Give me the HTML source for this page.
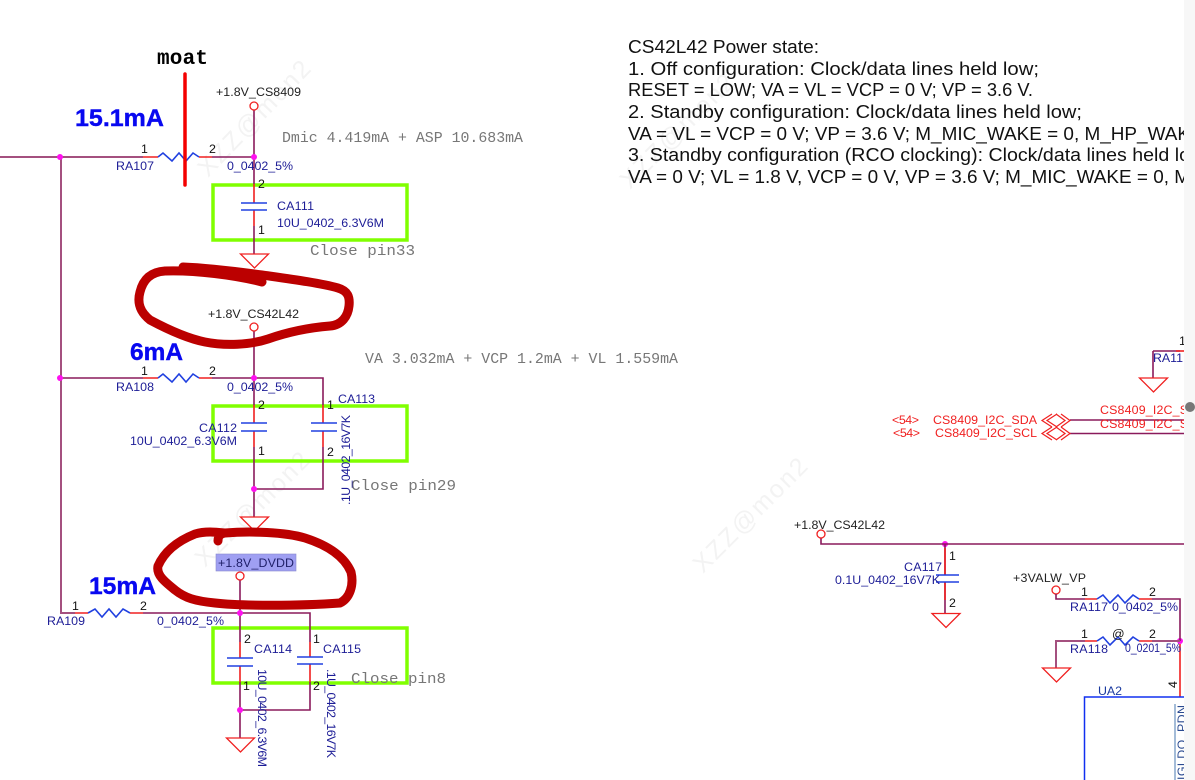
<!DOCTYPE html>
<html><head><meta charset="utf-8">
<style>
html,body{margin:0;padding:0;background:#fff;width:1195px;height:780px;overflow:hidden}
svg{display:block}
text{font-family:"Liberation Sans",sans-serif}
.w{stroke:#8a1a5c;stroke-width:1.6;fill:none}
.l{stroke:#a4507f;stroke-width:2;fill:none}
.r{stroke:#f02020;stroke-width:1.6;fill:none}
.b{stroke:#2040e0;stroke-width:1.6;fill:none}
.t{stroke:#f02020;stroke-width:1.3;fill:#fff}
.c{stroke:#f02020;stroke-width:1.3;fill:#fff}
.n{fill:#ff10f0}
.g{stroke:#80ff00;stroke-width:3.5;fill:none}
.k{font-size:12.4px;fill:#111}
.u{font-size:12.4px;fill:#1c1c96}
.v{font-size:12.4px;fill:#222}
.m{font-size:14.5px;fill:#777;font-family:"Liberation Mono",monospace}
.h{font-size:24.5px;font-weight:bold;fill:#0808f0;stroke:#0808f0;stroke-width:.4}
.p{font-size:18.5px;fill:#111}
.x{font-size:12.4px;fill:#f02020}
.wm{font-size:25px;fill:#f3f3f3}
</style></head><body>
<svg width="1195" height="780" viewBox="0 0 1195 780" xmlns="http://www.w3.org/2000/svg">
<!-- watermarks -->
<text class="wm" transform="translate(208,178) rotate(-46)" textLength="150">XZZ@mon2</text>
<text class="wm" transform="translate(205,568) rotate(-45)" textLength="150">XZZ@mon2</text>
<text class="wm" transform="translate(703,574) rotate(-45)" textLength="150">XZZ@mon2</text>
<text class="wm" transform="translate(630,190) rotate(-45)" textLength="150">XZZ@mon2</text>

<!-- green boxes -->
<rect class="g" x="213" y="185" width="194" height="55"/>
<rect class="g" x="213" y="406" width="194" height="55"/>
<rect class="g" x="213" y="628" width="194" height="55"/>

<!-- left wires -->
<path class="l" d="M0 157H143M61 157V613H75"/>
<path class="w" d="M61 378H143M212 378H323V405M323 447V489H254"/>
<path class="w" d="M212 157H254M254 110V184M254 226V254"/>
<path class="w" d="M254 331V405M254 447V517"/>
<path class="w" d="M143 613H240H310V642M240 580V642M240 682V738M310 682V710H240"/>

<!-- red pins -->
<path class="r" d="M143 157H158M199 157H212M143 378H158M199 378H212M75 613H88M130 613H143"/>
<path class="r" d="M254 184V203M254 210V226M254 405V423M254 431V447M323 405V423M323 431V447M240 642V658M240 666V682M310 642V657M310 664V682"/>
<!-- resistors -->
<path class="b" d="M158 157L163 153L172 161L179 153L186 161L193 153L199 157"/>
<path class="b" d="M158 378L163 374L172 382L179 374L186 382L193 374L199 378"/>
<path class="b" d="M88 613L95 609L102 617L109 609L116 617L123 609L130 613"/>
<!-- caps -->
<path class="b" d="M241 203H267M241 210H267M241 423H267M241 431H267M311 423H337M311 431H337M227 658H253M227 666H253M297 657H323M297 664H323"/>
<!-- grounds -->
<path class="t" d="M240.500 254H268.500L254.500 268Z"/>
<path class="t" d="M240.500 517H268.500L254.500 531Z"/>
<path class="t" d="M226.500 738H254.500L240.500 752Z"/>
<!-- DVDD highlight -->
<rect x="216" y="554" width="80" height="17" fill="#9f9ff2" stroke="#8888cc" stroke-width=".6"/>
<!-- power circles -->
<circle class="c" cx="254" cy="106" r="4"/>
<circle class="c" cx="254" cy="327" r="4"/>
<circle class="c" cx="240" cy="576" r="4"/>
<!-- nodes -->
<g class="n">
<circle cx="60" cy="157" r="3"/><circle cx="254" cy="157" r="3"/>
<circle cx="60" cy="378" r="3"/><circle cx="254" cy="378" r="3"/><circle cx="254" cy="489" r="3"/>
<circle cx="240" cy="613" r="3"/><circle cx="240" cy="710" r="3"/>
<circle cx="945" cy="544" r="3"/><circle cx="1180" cy="641" r="3"/>
</g>

<!-- moat -->
<path d="M185 74V185" stroke="#f40000" stroke-width="3.500" stroke-linecap="round"/>
<text x="157" y="64" font-size="21" font-weight="bold" style="font-family:'Liberation Mono',monospace" fill="#000" textLength="51">moat</text>

<!-- red marker -->
<path d="M183 267C210 268 240 272 262 275C290 279 320 283 338 288C348 291 350 297 349 306C348 316 342 325 330 326C305 328 285 333 268 339C250 345 225 346 205 342C185 338 165 328 150 320C140 312 137 303 140 292C143 280 150 272 165 271C195 270 235 275 262 282" fill="none" stroke="#bb0000" stroke-width="9" stroke-linecap="round" stroke-linejoin="round"/>
<path d="M218 541C218 536 220 534 225 533C250 531 285 532 305 538C330 546 345 558 351 572C354 585 350 598 340 603C300 606 240 606 215 603C195 601 185 598 175 590C165 582 156 575 158 566C165 550 180 540 195 534C205 531 215 532 225 533" fill="none" stroke="#bb0000" stroke-width="9" stroke-linecap="round" stroke-linejoin="round"/>

<!-- left labels -->
<text class="v" x="216" y="96" textLength="85">+1.8V_CS8409</text>
<text class="v" x="208" y="318" textLength="91">+1.8V_CS42L42</text>
<text x="218" y="567" font-size="12.400" fill="#20206a" textLength="76">+1.8V_DVDD</text>
<text class="h" x="75" y="126" textLength="89" lengthAdjust="spacingAndGlyphs">15.1mA</text>
<text class="h" x="130" y="360" textLength="53" lengthAdjust="spacingAndGlyphs">6mA</text>
<text class="h" x="89" y="594" textLength="67" lengthAdjust="spacingAndGlyphs">15mA</text>
<text class="m" x="282" y="142" textLength="241" lengthAdjust="spacingAndGlyphs">Dmic 4.419mA + ASP 10.683mA</text>
<text class="m" x="310" y="255" textLength="105" lengthAdjust="spacingAndGlyphs">Close pin33</text>
<text class="m" x="365" y="363" textLength="313" lengthAdjust="spacingAndGlyphs">VA 3.032mA + VCP 1.2mA + VL 1.559mA</text>
<text class="m" x="351" y="490" textLength="105" lengthAdjust="spacingAndGlyphs">Close pin29</text>
<text class="m" x="351" y="683" textLength="95" lengthAdjust="spacingAndGlyphs">Close pin8</text>

<text class="k" x="141" y="153">1</text><text class="k" x="209" y="153">2</text>
<text class="u" x="116" y="170" textLength="38">RA107</text><text class="u" x="227" y="170" textLength="66">0_0402_5%</text>
<text class="k" x="258" y="188">2</text><text class="k" x="258" y="234">1</text>
<text class="u" x="277" y="210" textLength="37">CA111</text><text class="u" x="277" y="227" textLength="107">10U_0402_6.3V6M</text>

<text class="k" x="141" y="375">1</text><text class="k" x="209" y="375">2</text>
<text class="u" x="116" y="391" textLength="38">RA108</text><text class="u" x="227" y="391" textLength="66">0_0402_5%</text>
<text class="k" x="258" y="409">2</text><text class="k" x="327" y="409">1</text>
<text class="u" x="338" y="403" textLength="37">CA113</text>
<text class="u" x="199" y="432" textLength="38">CA112</text><text class="u" x="130" y="445" textLength="107">10U_0402_6.3V6M</text>
<text class="k" x="258" y="455">1</text><text class="k" x="327" y="456">2</text>
<text class="u" transform="translate(350,505) rotate(-90)" textLength="90">.1U_0402_16V7K</text>

<text class="k" x="72" y="610">1</text><text class="k" x="140" y="610">2</text>
<text class="u" x="47" y="625" textLength="38">RA109</text><text class="u" x="157" y="625" textLength="67">0_0402_5%</text>
<text class="k" x="244" y="643">2</text><text class="k" x="313" y="643">1</text>
<text class="u" x="254" y="653" textLength="38">CA114</text><text class="u" x="323" y="653" textLength="38">CA115</text>
<text class="k" x="243" y="690">1</text><text class="k" x="313" y="690">2</text>
<text class="u" transform="translate(258,669) rotate(90)" textLength="98">10U_0402_6.3V6M</text>
<text class="u" transform="translate(327,669) rotate(90)" textLength="89">.1U_0402_16V7K</text>

<!-- right: RA11 + I2C -->
<path class="w" d="M1153 351H1180M1153 351V378"/>
<path class="r" d="M1176 351H1184"/>
<path class="t" d="M1139.500 378H1167.500L1153.500 392Z"/>
<text class="k" x="1179" y="345">1</text>
<text class="u" x="1153" y="362" textLength="30">RA11</text>
<path class="w" d="M1070 420H1184M1070 433.500H1184"/>
<g fill="none" stroke="#f02020" stroke-width="1.200">
<path d="M1052 414L1042 420.500L1052 427M1057 414L1047 420.500L1057 427M1056 414L1065 420.500L1056 427M1061 414L1070 420.500L1061 427"/>
<path d="M1052 427L1042 433.500L1052 440M1057 427L1047 433.500L1057 440M1056 427L1065 433.500L1056 440M1061 427L1070 433.500L1061 440"/>
</g>
<text class="x" x="892" y="424" textLength="27">&lt;54&gt;</text>
<text class="x" x="933" y="424" textLength="104">CS8409_I2C_SDA</text>
<text class="x" x="893" y="437" textLength="27">&lt;54&gt;</text>
<text class="x" x="935" y="437" textLength="102">CS8409_I2C_SCL</text>
<text class="x" x="1100" y="414" textLength="88">CS8409_I2C_S</text>
<text class="x" x="1100" y="428" textLength="88">CS8409_I2C_S</text>

<!-- right lower -->
<text class="v" x="794" y="529" textLength="91">+1.8V_CS42L42</text>
<path class="w" d="M821 538V544H1184M945 544V575M945 582V613"/>
<path class="r" d="M945 548V575M945 582V600"/>
<path class="b" d="M936 575H959M936 582H959"/>
<circle class="c" cx="821" cy="534" r="4"/>
<path class="t" d="M932 613.500H960L946 627.500Z"/>
<text class="u" x="904" y="571" textLength="38">CA117</text>
<text class="u" x="835" y="584" textLength="105">0.1U_0402_16V7K</text>
<text class="k" x="949" y="560">1</text><text class="k" x="949" y="607">2</text>

<text class="v" x="1013" y="582" textLength="73">+3VALW_VP</text>
<circle class="c" cx="1056" cy="590" r="4"/>
<path class="w" d="M1056 594V599H1085M1152 599H1180V641"/>
<path class="l" d="M1056 668V641H1085M1152 641H1180"/>
<path class="r" d="M1085 599H1097M1139 599H1152M1085 641H1097M1139 641H1152M1180 644V697"/>
<path class="b" d="M1097 599L1103 595L1110 603L1118 595L1125 603L1133 595L1139 599"/>
<path class="b" d="M1097 641L1103 637L1110 645L1118 637L1125 645L1133 637L1139 641"/>
<path class="t" d="M1042.500 668H1070.500L1056.500 682Z"/>
<text class="k" x="1081" y="596">1</text><text class="k" x="1149" y="596">2</text>
<text class="k" x="1081" y="638">1</text><text class="k" x="1149" y="638">2</text>
<text class="k" x="1112" y="638">@</text>
<text class="u" x="1070" y="611" textLength="38">RA117</text><text class="u" x="1112" y="611" textLength="66">0_0402_5%</text>
<text class="u" x="1070" y="653" textLength="38">RA118</text><text class="u" x="1125" y="652" textLength="56" lengthAdjust="spacingAndGlyphs">0_0201_5%</text>
<path d="M1084.500 780V697H1184" stroke="#1030f0" stroke-width="1.500" fill="none"/>
<text x="1098" y="695" font-size="12.400" fill="#1a3aa0" textLength="24">UA2</text>
<path d="M1175 704V780" stroke="#4a7ab0" stroke-width="1"/>
<text class="u" transform="translate(1186,780) rotate(-90)" textLength="75" style="fill:#2a4a90">IGLDO_PDN</text>
<text class="k" transform="translate(1177,688) rotate(-90)">4</text>

<!-- power state text -->
<g>
<text class="p" x="628" y="53" textLength="191" lengthAdjust="spacingAndGlyphs">CS42L42 Power state:</text>
<text class="p" x="628" y="75" textLength="411" lengthAdjust="spacingAndGlyphs">1. Off configuration: Clock/data lines held low;</text>
<text class="p" x="628" y="96" textLength="405" lengthAdjust="spacingAndGlyphs">RESET = LOW; VA = VL = VCP = 0 V; VP = 3.6 V.</text>
<text class="p" x="628" y="118" textLength="454" lengthAdjust="spacingAndGlyphs">2. Standby configuration: Clock/data lines held low;</text>
<text class="p" x="628" y="140" textLength="562" lengthAdjust="spacingAndGlyphs">VA = VL = VCP = 0 V; VP = 3.6 V; M_MIC_WAKE = 0, M_HP_WAK</text>
<text class="p" x="628" y="161" textLength="562" lengthAdjust="spacingAndGlyphs">3. Standby configuration (RCO clocking): Clock/data lines held lo</text>
<text class="p" x="628" y="183" textLength="562" lengthAdjust="spacingAndGlyphs">VA = 0 V; VL = 1.8 V, VCP = 0 V, VP = 3.6 V; M_MIC_WAKE = 0, M</text>
</g>

<!-- right strip -->
<rect x="1184" y="0" width="11" height="780" fill="#f7f7f7"/>
<circle cx="1190" cy="407" r="5" fill="#777"/>
</svg>
</body></html>
